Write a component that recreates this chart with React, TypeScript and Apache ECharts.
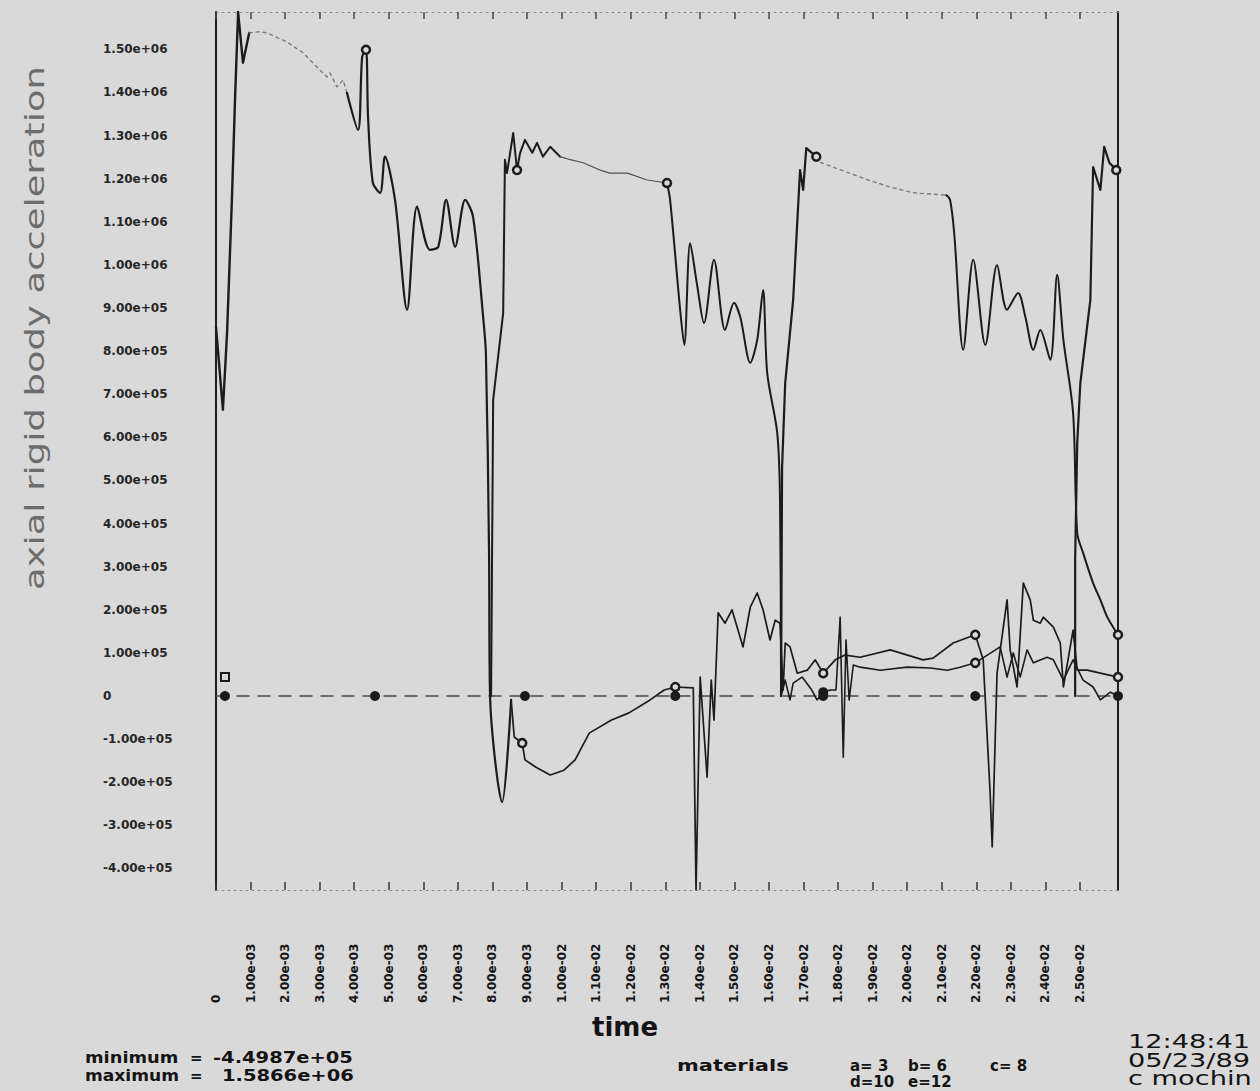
import { useEffect, useRef } from "react";
import * as echarts from "echarts";

// Axis extents: the plotted window spans exactly the stated minimum and maximum.
const X_MAX = 0.0261;
const Y_MIN = -449870;
const Y_MAX = 1586600;

const xTickValues = [
  0, 0.001, 0.002, 0.003, 0.004, 0.005, 0.006, 0.007, 0.008, 0.009, 0.01, 0.011, 0.012,
  0.013, 0.014, 0.015, 0.016, 0.017, 0.018, 0.019, 0.02, 0.021, 0.022, 0.023, 0.024, 0.025,
];
const xTickLabels = [
  "0", "1.00e-03", "2.00e-03", "3.00e-03", "4.00e-03", "5.00e-03", "6.00e-03", "7.00e-03",
  "8.00e-03", "9.00e-03", "1.00e-02", "1.10e-02", "1.20e-02", "1.30e-02", "1.40e-02",
  "1.50e-02", "1.60e-02", "1.70e-02", "1.80e-02", "1.90e-02", "2.00e-02", "2.10e-02",
  "2.20e-02", "2.30e-02", "2.40e-02", "2.50e-02",
];
const yTickValues = [
  -400000, -300000, -200000, -100000, 0, 100000, 200000, 300000, 400000, 500000, 600000,
  700000, 800000, 900000, 1000000, 1100000, 1200000, 1300000, 1400000, 1500000,
];
const yTickLabels = [
  "-4.00e+05", "-3.00e+05", "-2.00e+05", "-1.00e+05", "0", "1.00e+05", "2.00e+05",
  "3.00e+05", "4.00e+05", "5.00e+05", "6.00e+05", "7.00e+05", "8.00e+05", "9.00e+05",
  "1.00e+06", "1.10e+06", "1.20e+06", "1.30e+06", "1.40e+06", "1.50e+06",
];

// Material that never picks up load: flat at zero over the whole run.
const zeroLine = [[0, 0], [0.0261, 0]];

// First loaded material.
const tRise = [
  [0, 856000], [0.0002, 664000], [0.00032, 842000], [0.00046, 1151000], [0.00055, 1383000],
  [0.00064, 1586600], [0.00078, 1469000], [0.00096, 1538000],
];
const tPlateau = [
  [0.00096, 1538000], [0.00127, 1541000], [0.00148, 1538000], [0.00205, 1517000],
  [0.00252, 1492000], [0.00292, 1459000], [0.00321, 1436000], [0.0033, 1445000],
  [0.0035, 1413000], [0.00368, 1429000], [0.00379, 1399000],
];
const tFall = [
  [0.00379, 1399000], [0.00411, 1313000], [0.00423, 1483000], [0.00434, 1499000],
  [0.0044, 1343000], [0.00454, 1190000], [0.00475, 1167000], [0.00489, 1251000],
  [0.00518, 1151000], [0.00553, 896000], [0.00582, 1135000], [0.00619, 1035000],
  [0.00643, 1042000], [0.00666, 1151000], [0.00692, 1042000], [0.00721, 1151000],
  [0.00744, 1111000], [0.00773, 879000], [0.00781, 794000], [0.0079, 339000], [0.00793, 0],
  [0.00828, -246000], [0.00854, -9000],
];
const tLow = [
  [0.00854, -9000], [0.00863, -95000], [0.00886, -109000], [0.00894, -148000],
  [0.00926, -165000], [0.00967, -183000], [0.01007, -172000], [0.01039, -148000],
  [0.0108, -86000], [0.01143, -56000], [0.01195, -39000], [0.01256, -9000], [0.01297, 14000],
  [0.01329, 21000], [0.01381, 19000], [0.01389, -449870], [0.01401, 44000], [0.01421, -188000],
  [0.01433, 37000], [0.01441, -56000], [0.01453, 193000], [0.01473, 169000], [0.01493, 200000],
  [0.01525, 114000], [0.01546, 206000], [0.01566, 239000], [0.01583, 200000], [0.01603, 130000],
  [0.01618, 176000], [0.01632, 169000], [0.01641, 14000], [0.01647, 123000], [0.01661, 114000],
  [0.01682, 53000], [0.01711, 60000], [0.01734, 84000], [0.01757, 53000], [0.01792, 84000],
  [0.0182, 95000], [0.01864, 90000], [0.01951, 107000], [0.02046, 84000], [0.02075, 88000],
  [0.02133, 123000], [0.02197, 142000], [0.0222, 84000], [0.0224, -225000], [0.02246, -350000],
  [0.0226, 53000], [0.02289, 223000], [0.02298, 107000], [0.02318, 21000], [0.02336, 262000],
  [0.02356, 223000], [0.02365, 176000], [0.02385, 169000], [0.02394, 183000], [0.02423, 160000],
  [0.02443, 123000], [0.02452, 21000], [0.0248, 153000], [0.02492, 60000], [0.02521, 60000],
  [0.02559, 53000], [0.0261, 44000],
];

// Second loaded material.
const uRise = [
  [0.00796, 0], [0.00802, 687000], [0.00831, 889000], [0.00836, 1244000], [0.00842, 1213000],
  [0.0086, 1306000], [0.00871, 1220000], [0.0088, 1260000], [0.00894, 1290000],
  [0.00915, 1260000], [0.00929, 1283000], [0.00946, 1251000], [0.00967, 1274000],
  [0.00996, 1251000],
];
const uPlateau = [
  [0.00996, 1251000], [0.01025, 1244000], [0.01062, 1237000], [0.01111, 1220000],
  [0.0114, 1213000], [0.0119, 1213000], [0.01248, 1197000], [0.01305, 1190000],
];
const uFall = [
  [0.01305, 1190000], [0.01314, 1151000], [0.01343, 896000], [0.01355, 814000],
  [0.01372, 1051000], [0.01392, 954000], [0.01412, 865000], [0.01441, 1012000],
  [0.01473, 849000], [0.01499, 912000], [0.01517, 879000], [0.01546, 773000],
  [0.01566, 826000], [0.01583, 942000], [0.01595, 749000], [0.01624, 610000],
  [0.01632, 455000], [0.01635, 0],
];
const uLow = [
  [0.01635, 0], [0.01647, 37000], [0.01661, -9000], [0.0167, 30000], [0.01696, 44000],
  [0.01724, 14000], [0.01739, -9000], [0.01757, 9000], [0.01777, 14000], [0.01794, 14000],
  [0.01806, 183000], [0.01815, -142000], [0.01823, 130000], [0.01832, -9000], [0.01844, 72000],
  [0.01864, 67000], [0.01922, 60000], [0.02, 67000], [0.02067, 65000], [0.02116, 60000],
  [0.02153, 67000], [0.02197, 77000], [0.02269, 114000], [0.02289, 44000], [0.02307, 100000],
  [0.02327, 44000], [0.02347, 107000], [0.02365, 77000], [0.02405, 90000], [0.02423, 84000],
  [0.02452, 37000], [0.0248, 84000], [0.02509, 37000], [0.02538, 21000], [0.02559, -9000],
  [0.02588, 9000], [0.0261, 0],
];

// Third loaded material.
const vRise = [
  [0.01635, 0], [0.01638, 531000], [0.01647, 726000], [0.0167, 919000], [0.0169, 1220000],
  [0.01699, 1174000], [0.01708, 1271000], [0.01737, 1251000],
];
const vPlateau = [
  [0.01737, 1251000], [0.01751, 1237000], [0.01887, 1197000], [0.01948, 1181000],
  [0.0202, 1167000], [0.02113, 1162000],
];
const vFall = [
  [0.02113, 1162000], [0.02124, 1151000], [0.02136, 1074000], [0.02162, 803000],
  [0.02191, 1012000], [0.02226, 814000], [0.0226, 1000000], [0.02289, 896000],
  [0.02321, 935000], [0.02342, 879000], [0.02365, 803000], [0.02385, 849000],
  [0.02414, 780000], [0.02434, 977000], [0.02452, 826000], [0.0248, 657000],
  [0.02492, 378000], [0.02509, 332000], [0.02538, 262000], [0.02559, 223000],
  [0.02579, 183000], [0.0261, 142000],
];

// Fourth loaded material, picking up load at the end of the run.
const wRise = [
  [0.02486, 0], [0.02486, 316000], [0.02492, 587000], [0.02501, 726000], [0.0253, 919000],
  [0.02538, 1227000], [0.02559, 1174000], [0.0257, 1274000], [0.02585, 1237000],
  [0.02605, 1220000], [0.0261, 1220000],
];

// Curve identification marks placed along the traces.
const openMarks = [
  [0.00434, 1499000], [0.00871, 1220000], [0.00886, -109000], [0.01305, 1190000],
  [0.01329, 21000], [0.01737, 1251000], [0.01757, 53000], [0.02197, 142000],
  [0.02197, 77000], [0.02605, 1220000], [0.0261, 142000], [0.0261, 44000],
];
const filledMarks = [
  [0.00026, 0], [0.0046, 0], [0.00894, 0], [0.01329, 0], [0.01757, 9000], [0.01757, 0],
  [0.02197, 0], [0.0261, 0],
];
const squareMarks = [[0.00026, 44000]];

const FONT = '"DejaVu Sans", "Liberation Sans", sans-serif';
const INK = "#1b1b1b";
const PAPER = "#d9d9d9";

const lookup = (values: number[], labels: string[], v: number, tol: number) => {
  for (let i = 0; i < values.length; i++) {
    if (Math.abs(values[i] - v) < tol) return labels[i];
  }
  return "";
};

const lineSeries = (
  data: number[][],
  color: string,
  width: number,
  type: any = "solid",
  smooth: number | boolean = false,
  z = 3
) => ({
  type: "line",
  data,
  showSymbol: false,
  symbol: "none",
  silent: true,
  smooth,
  z,
  lineStyle: { color, width, type, cap: "round", join: "round" },
});

const txt = (
  text: string,
  x: number,
  y: number,
  font: string,
  opts: { scaleX?: number; align?: string; fill?: string; rotation?: number } = {}
) => ({
  type: "text",
  x,
  y,
  scaleX: opts.scaleX ?? 1,
  rotation: opts.rotation ?? 0,
  silent: true,
  style: {
    text,
    font,
    fill: opts.fill ?? "#141414",
    textAlign: opts.align ?? "left",
    align: opts.align ?? "left",
    textVerticalAlign: "middle",
    verticalAlign: "middle",
  },
});

const frameLine = { show: true, onZero: false, lineStyle: { color: "#8a8a8a", width: 1, type: [2, 4] } };
const sideLine = { show: true, onZero: false, lineStyle: { color: "#1e1e1e", width: 2 } };

const option: any = {
  animation: false,
  backgroundColor: PAPER,
  grid: { left: 216, right: 142, top: 12, bottom: 201, containLabel: false, outerBoundsMode: "none" },
  xAxis: [
    {
      type: "value",
      min: 0,
      max: X_MAX,
      position: "bottom",
      axisLine: frameLine,
      axisTick: {
        show: true,
        inside: true,
        length: 8,
        customValues: xTickValues,
        lineStyle: { color: "#333", width: 1.5 },
      },
      axisLabel: {
        show: true,
        customValues: xTickValues,
        rotate: 90,
        align: "left",
        verticalAlign: "middle",
        margin: 113,
        fontSize: 12,
        fontWeight: "bold",
        fontFamily: FONT,
        color: "#161616",
        formatter: (v: number) => lookup(xTickValues, xTickLabels, v, 1e-9),
      },
      splitLine: { show: false },
    },
    {
      type: "value",
      min: 0,
      max: X_MAX,
      position: "top",
      axisLine: frameLine,
      axisTick: {
        show: true,
        inside: true,
        length: 7,
        customValues: xTickValues,
        lineStyle: { color: "#444", width: 1.5 },
      },
      axisLabel: { show: false },
      splitLine: { show: false },
    },
  ],
  yAxis: [
    {
      type: "value",
      min: Y_MIN,
      max: Y_MAX,
      position: "left",
      axisLine: sideLine,
      axisTick: { show: false },
      axisLabel: {
        show: true,
        customValues: yTickValues,
        align: "left",
        margin: 113,
        fontSize: 12,
        fontWeight: "bold",
        fontFamily: FONT,
        color: "#262626",
        formatter: (v: number) => lookup(yTickValues, yTickLabels, v, 1),
      },
      splitLine: { show: false },
    },
    {
      type: "value",
      min: Y_MIN,
      max: Y_MAX,
      position: "right",
      axisLine: sideLine,
      axisTick: { show: false },
      axisLabel: { show: false },
      splitLine: { show: false },
    },
  ],
  series: [
    lineSeries(zeroLine, "#4a4a4a", 1.5, [12, 9], false, 2),
    lineSeries(tRise, INK, 2.4),
    lineSeries(tPlateau, "#7c7c7c", 1.4, [3, 4]),
    lineSeries(tFall, INK, 2.2, "solid", 0.3),
    lineSeries(tLow, INK, 1.7),
    lineSeries(uRise, INK, 2.0),
    lineSeries(uPlateau, "#505050", 1.2),
    lineSeries(uFall, INK, 2.0, "solid", 0.3),
    lineSeries(uLow, INK, 1.6),
    lineSeries(vRise, INK, 2.2),
    lineSeries(vPlateau, "#7c7c7c", 1.4, [3, 4]),
    lineSeries(vFall, INK, 2.0, "solid", 0.3),
    lineSeries(wRise, INK, 2.2),
    {
      type: "scatter",
      data: openMarks,
      symbol: "circle",
      symbolSize: 8,
      silent: true,
      z: 5,
      itemStyle: { color: PAPER, borderColor: INK, borderWidth: 2.5, opacity: 1 },
    },
    {
      type: "scatter",
      data: filledMarks,
      symbol: "circle",
      symbolSize: 10,
      silent: true,
      z: 5,
      itemStyle: { color: INK, opacity: 1 },
    },
    {
      type: "scatter",
      data: squareMarks,
      symbol: "rect",
      symbolSize: 8,
      silent: true,
      z: 5,
      itemStyle: { color: PAPER, borderColor: INK, borderWidth: 2, opacity: 1 },
    },
  ],
  graphic: {
    elements: [
      txt("axial rigid body acceleration", 35, 328, `26px ${FONT}`, {
        rotation: Math.PI / 2,
        scaleX: 1.42,
        align: "center",
        fill: "#6c6c6c",
      }),
      txt("time", 625, 1027, `bold 26px ${FONT}`, { align: "center" }),
      txt("minimum", 85, 1058, `bold 15px ${FONT}`, { scaleX: 1.19 }),
      txt("=", 190, 1058, `bold 15px ${FONT}`),
      txt("-4.4987e+05", 213, 1058, `bold 15px ${FONT}`, { scaleX: 1.3 }),
      txt("maximum", 85, 1076, `bold 15px ${FONT}`, { scaleX: 1.14 }),
      txt("=", 190, 1076, `bold 15px ${FONT}`),
      txt("1.5866e+06", 222, 1076, `bold 15px ${FONT}`, { scaleX: 1.3 }),
      txt("materials", 677, 1066, `bold 15px ${FONT}`, { scaleX: 1.4 }),
      txt("a= 3", 850, 1066, `bold 15px ${FONT}`),
      txt("b= 6", 908, 1066, `bold 15px ${FONT}`),
      txt("c= 8", 990, 1066, `bold 15px ${FONT}`),
      txt("d=10", 850, 1082, `bold 15px ${FONT}`),
      txt("e=12", 908, 1082, `bold 15px ${FONT}`),
      txt("12:48:41", 1128, 1041, `20px ${FONT}`, { scaleX: 1.36 }),
      txt("05/23/89", 1128, 1060, `20px ${FONT}`, { scaleX: 1.36 }),
      txt("c mochin", 1128, 1078, `20px ${FONT}`, { scaleX: 1.36 }),
    ],
  },
};

export default function App() {
  const ref = useRef<HTMLDivElement>(null);
  useEffect(() => {
    if (!ref.current) return;
    const chart = echarts.init(ref.current, null, { renderer: "svg" });
    chart.setOption(option);
    return () => chart.dispose();
  }, []);
  return (
    <div
      ref={ref}
      style={{ position: "fixed", left: 0, top: 0, width: 1260, height: 1091, background: PAPER }}
    />
  );
}
